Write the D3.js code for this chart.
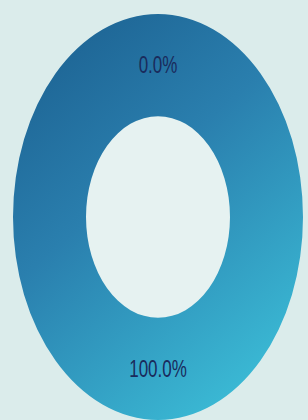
<!DOCTYPE html>
<html>
<head>
<meta charset="utf-8">
<script src="https://cdn.jsdelivr.net/npm/d3@7"></script>
<style>
  html, body { margin: 0; padding: 0; background: #dbeceb; }
  svg { display: block; }
</style>
</head>
<body>
<svg id="donut" width="308" height="420"></svg>
<script>
const labels = ["a", "b"];
const values = [0, 100];

const width = 308;
const height = 420;
const cx = 158, cy = 217;
const outer = 145, inner = 72;
const stretchY = 1.4;

const svg = d3.select("svg#donut");

const defs = svg.append("defs");
const grad = defs.append("linearGradient")
    .attr("id", "donut-grad")
    .attr("gradientUnits", "userSpaceOnUse")
    .attr("x1", -outer * 0.6).attr("y1", -outer)
    .attr("x2", outer * 0.6).attr("y2", outer);
grad.append("stop").attr("offset", "0%").attr("stop-color", "#1d6393");
grad.append("stop").attr("offset", "40%").attr("stop-color", "#2a7fae");
grad.append("stop").attr("offset", "100%").attr("stop-color", "#3cbfd8");

// inner hole background
svg.append("ellipse")
    .attr("cx", cx).attr("cy", cy)
    .attr("rx", inner).attr("ry", inner * stretchY)
    .attr("fill", "#e6f2f1");

const pie = d3.pie().sort(null).value(d => d);
const arc = d3.arc().innerRadius(inner).outerRadius(outer);
const arcs = pie(values);
const total = d3.sum(values);

const g = svg.append("g")
    .attr("transform", `translate(${cx},${cy}) scale(1,${stretchY})`);

g.selectAll("path")
  .data(arcs)
  .join("path")
    .attr("d", arc)
    .attr("fill", "url(#donut-grad)");

g.selectAll("text")
  .data(arcs)
  .join("text")
    .attr("transform", d => `translate(${arc.centroid(d)})`)
    .attr("text-anchor", "middle")
    .attr("dy", "0.35em")
    .attr("font-family", "Liberation Sans, Arial, sans-serif")
    .attr("font-size", 17)
    .attr("fill", "#1a2b5c")
    .text(d => d3.format(".1%")(d.data / total));
</script>
</body>
</html>
